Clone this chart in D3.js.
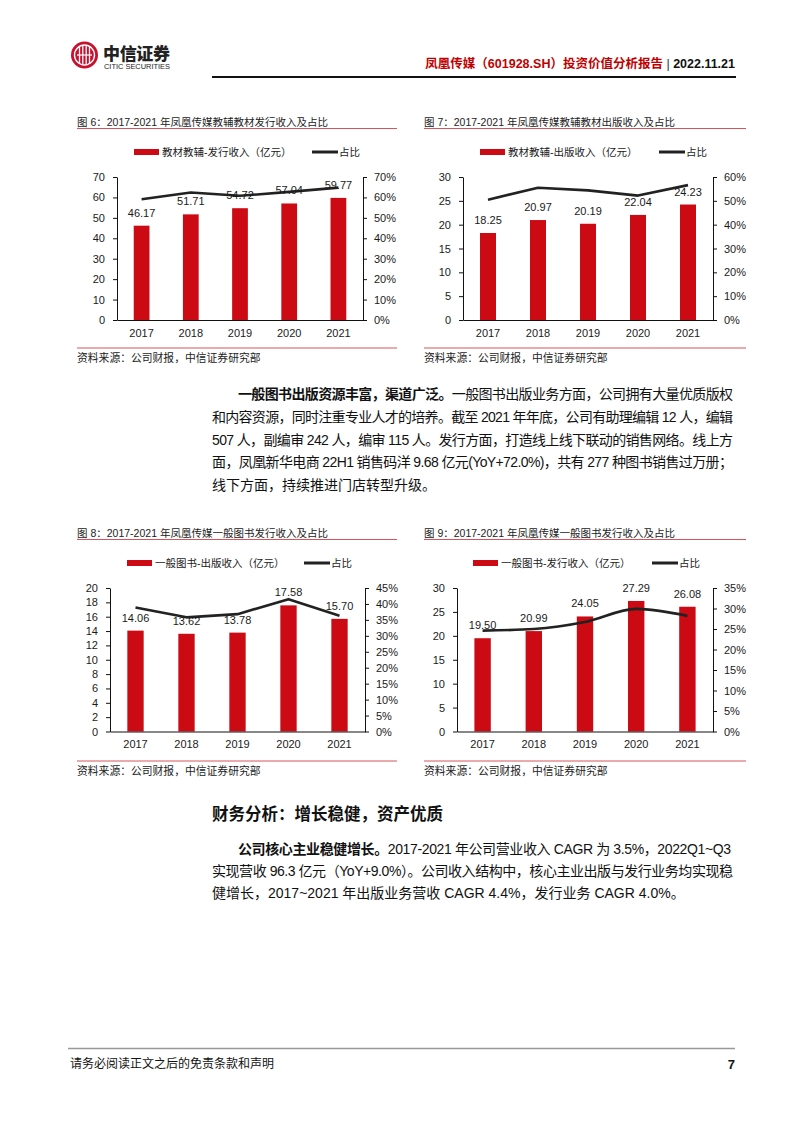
<!DOCTYPE html>
<html><head><meta charset="utf-8">
<script src="https://cdn.jsdelivr.net/npm/d3@7"></script>
<style>
html,body{margin:0;padding:0;background:#fff;}
svg text{font-family:"Liberation Sans","Noto Sans CJK SC",Arial,sans-serif;}
</style></head>
<body>
<script>
// ---------- DATA ----------
const years = ["2017", "2018", "2019", "2020", "2021"];

const fig6Title = "图 6：2017-2021 年凤凰传媒教辅教材发行收入及占比";
const fig6BarName = "教材教辅-发行收入（亿元）";
const fig6Revenue = [46.17, 51.71, 54.72, 57.04, 59.77];
const fig6Share = [0.591, 0.624, 0.608, 0.627, 0.648];
const fig6LeftTicks = [0, 10, 20, 30, 40, 50, 60, 70];
const fig6RightTicks = [0, 0.1, 0.2, 0.3, 0.4, 0.5, 0.6, 0.7];

const fig7Title = "图 7：2017-2021 年凤凰传媒教辅教材出版收入及占比";
const fig7BarName = "教材教辅-出版收入（亿元）";
const fig7Revenue = [18.25, 20.97, 20.19, 22.04, 24.23];
const fig7Share = [0.505, 0.555, 0.544, 0.522, 0.566];
const fig7LeftTicks = [0, 5, 10, 15, 20, 25, 30];
const fig7RightTicks = [0, 0.1, 0.2, 0.3, 0.4, 0.5, 0.6];

const fig8Title = "图 8：2017-2021 年凤凰传媒一般图书发行收入及占比";
const fig8BarName = "一般图书-出版收入（亿元）";
const fig8Revenue = [14.06, 13.62, 13.78, 17.58, 15.70];
const fig8Share = [0.389, 0.358, 0.368, 0.415, 0.363];
const fig8LeftTicks = [0, 2, 4, 6, 8, 10, 12, 14, 16, 18, 20];
const fig8RightTicks = [0, 0.05, 0.1, 0.15, 0.2, 0.25, 0.3, 0.35, 0.4, 0.45];

const fig9Title = "图 9：2017-2021 年凤凰传媒一般图书发行收入及占比";
const fig9BarName = "一般图书-发行收入（亿元）";
const fig9Revenue = [19.50, 20.99, 24.05, 27.29, 26.08];
const fig9Share = [0.246, 0.250, 0.267, 0.299, 0.282];
const fig9LeftTicks = [0, 5, 10, 15, 20, 25, 30];
const fig9RightTicks = [0, 0.05, 0.1, 0.15, 0.2, 0.25, 0.3, 0.35];

const lineName = "占比";
const sourceText = "资料来源：公司财报，中信证券研究部";

// ---------- STYLE ----------
const RED = "#cc0a14";
const RULE = "#d9545a";
const INK = "#1a1a1a";

const svg = d3.select("body").append("svg").attr("width", 802).attr("height", 1133);

// ---------- HEADER ----------
const logo = svg.append("g");
logo.append("circle").attr("cx", 84.5).attr("cy", 55).attr("r", 13.5).attr("fill", "#c8102e");
logo.append("circle").attr("cx", 84.5).attr("cy", 55).attr("r", 10).attr("fill", "none").attr("stroke", "#fff").attr("stroke-width", 1.4);
[-5, -1.7, 1.7, 5].forEach(dx => {
  logo.append("line").attr("x1", 84.5 + dx).attr("x2", 84.5 + dx).attr("y1", 46).attr("y2", 64)
    .attr("stroke", "#fff").attr("stroke-width", 1.3);
});
logo.append("line").attr("x1", 77).attr("x2", 92).attr("y1", 55).attr("y2", 55).attr("stroke", "#fff").attr("stroke-width", 1.2);
logo.append("text").attr("x", 103).attr("y", 59.5).attr("font-size", 17).attr("font-weight", 900)
  .attr("fill", "#222").attr("textLength", 67).text("中信证券");
logo.append("text").attr("x", 104).attr("y", 68.5).attr("font-size", 7.2).attr("fill", "#222")
  .attr("textLength", 66).attr("lengthAdjust", "spacingAndGlyphs").text("CITIC SECURITIES");

const hdr = svg.append("text").attr("x", 735).attr("y", 67.5).attr("text-anchor", "end")
  .attr("font-size", 12.5).attr("font-weight", "bold");
hdr.append("tspan").attr("fill", "#c00000").text("凤凰传媒（601928.SH）投资价值分析报告");
hdr.append("tspan").attr("fill", "#333").attr("font-weight", "normal").text(" | ");
hdr.append("tspan").attr("fill", "#111").text("2022.11.21");
svg.append("line").attr("x1", 212).attr("x2", 736).attr("y1", 77).attr("y2", 77)
  .attr("stroke", "#111").attr("stroke-width", 2);

// ---------- CHART ----------
function drawChart(c) {
  const g = svg.append("g");
  // title + rule
  g.append("text").attr("x", c.frameL).attr("y", c.titleY).attr("font-size", 10.5).attr("fill", "#222").text(c.title);
  g.append("line").attr("x1", c.frameL).attr("x2", c.frameR).attr("y1", c.titleY + 2.5).attr("y2", c.titleY + 2.5)
    .attr("stroke", RULE).attr("stroke-width", 1);
  // source
  g.append("line").attr("x1", c.frameL).attr("x2", c.frameR).attr("y1", c.sourceLineY).attr("y2", c.sourceLineY)
    .attr("stroke", RULE).attr("stroke-width", 1);
  g.append("text").attr("x", c.frameL).attr("y", c.sourceLineY + 14).attr("font-size", 10.8).attr("fill", "#222").text(sourceText);

  // legend
  g.append("rect").attr("x", c.leg1X).attr("y", c.legY - 3).attr("width", 25).attr("height", 6).attr("fill", RED);
  g.append("text").attr("x", c.leg1X + 28).attr("y", c.legY).attr("dy", "0.36em").attr("font-size", 10.5).attr("fill", INK).text(c.barName);
  g.append("line").attr("x1", c.leg2X).attr("x2", c.leg2X + 26).attr("y1", c.legY).attr("y2", c.legY)
    .attr("stroke", "#222").attr("stroke-width", 3);
  g.append("text").attr("x", c.leg2X + 27).attr("y", c.legY).attr("dy", "0.36em").attr("font-size", 10.5).attr("fill", INK).text(lineName);

  const x = d3.scaleBand().domain(years).range([c.left, c.right]).paddingInner(0.68).paddingOuter(0.34);
  const y = d3.scaleLinear().domain([0, d3.max(c.leftTicks)]).range([c.bottom, c.top]);
  const y2 = d3.scaleLinear().domain([0, d3.max(c.rightTicks)]).range([c.bottom, c.top]);

  const data = years.map((yr, i) => ({ yr, v: c.revenue[i], s: c.share[i] }));

  g.selectAll("rect.bar").data(data).join("rect").attr("class", "bar")
    .attr("x", d => x(d.yr)).attr("y", d => y(d.v))
    .attr("width", x.bandwidth()).attr("height", d => c.bottom - y(d.v)).attr("fill", RED);

  const styleAxis = sel => {
    sel.attr("font-size", 11).attr("font-family", "'Liberation Sans','Noto Sans CJK SC',Arial,sans-serif");
    sel.selectAll("path.domain").attr("stroke", "#111").attr("stroke-width", 1);
    sel.selectAll(".tick line").attr("stroke", "#111");
    sel.selectAll(".tick text").attr("fill", INK);
  };

  g.append("g").attr("transform", `translate(${c.left},0)`)
    .call(d3.axisLeft(y).tickValues(c.leftTicks).tickSize(4).tickSizeOuter(0).tickPadding(8).tickFormat(d3.format("d")))
    .call(styleAxis);
  g.append("g").attr("transform", `translate(${c.right},0)`)
    .call(d3.axisRight(y2).tickValues(c.rightTicks).tickSize(4).tickSizeOuter(0).tickPadding(7).tickFormat(d3.format(".0%")))
    .call(styleAxis);
  g.append("g").attr("transform", `translate(0,${c.bottom})`)
    .call(d3.axisBottom(x).tickSize(0).tickSizeOuter(0).tickPadding(9))
    .call(styleAxis);

  const line = d3.line().x(d => x(d.yr) + x.bandwidth() / 2).y(d => y2(d.s)).curve(c.curve || d3.curveLinear);
  g.append("path").datum(data).attr("d", line).attr("fill", "none").attr("stroke", "#222")
    .attr("stroke-width", 2.6).attr("stroke-linejoin", "round");

  g.selectAll("text.lbl").data(data).join("text").attr("class", "lbl")
    .attr("x", d => x(d.yr) + x.bandwidth() / 2).attr("y", d => y(d.v) - 9)
    .attr("text-anchor", "middle").attr("font-size", 11).attr("fill", INK)
    .text(d => d.v.toFixed(2));
}

drawChart({ title: fig6Title, barName: fig6BarName, revenue: fig6Revenue, share: fig6Share,
  leftTicks: fig6LeftTicks, rightTicks: fig6RightTicks,
  frameL: 77, frameR: 397, titleY: 126, sourceLineY: 348, legY: 152, leg1X: 134, leg2X: 312,
  left: 117, right: 363, top: 177, bottom: 320 });
drawChart({ title: fig7Title, barName: fig7BarName, revenue: fig7Revenue, share: fig7Share,
  leftTicks: fig7LeftTicks, rightTicks: fig7RightTicks,
  frameL: 424, frameR: 746, titleY: 126, sourceLineY: 348, legY: 152, leg1X: 480, leg2X: 659,
  left: 463, right: 713, top: 177, bottom: 320 });
drawChart({ title: fig8Title, barName: fig8BarName, revenue: fig8Revenue, share: fig8Share,
  leftTicks: fig8LeftTicks, rightTicks: fig8RightTicks,
  frameL: 77, frameR: 397, titleY: 537, sourceLineY: 761, legY: 563, leg1X: 127, leg2X: 304,
  left: 110, right: 365, top: 588, bottom: 731.5 });
drawChart({ title: fig9Title, barName: fig9BarName, revenue: fig9Revenue, share: fig9Share,
  leftTicks: fig9LeftTicks, rightTicks: fig9RightTicks,
  frameL: 424, frameR: 746, titleY: 537, sourceLineY: 761, legY: 563, leg1X: 473, leg2X: 652,
  left: 457, right: 713, top: 588, bottom: 731.5, curve: d3.curveMonotoneX });

// ---------- BODY TEXT ----------
function textLine(x, y, parts, width) {
  const t = svg.append("text").attr("x", x).attr("y", y).attr("font-size", 14).attr("fill", "#111");
  if (width) t.attr("textLength", width).attr("lengthAdjust", "spacing");
  parts.forEach(p => t.append("tspan").attr("font-weight", p.b ? "bold" : "normal").text(p.t));
}
const L = 212, R = 733, IND = 238;
const p1 = 399, gap1 = 22.8;
textLine(IND, p1, [{ t: "一般图书出版资源丰富，渠道广泛。", b: true }, { t: "一般图书出版业务方面，公司拥有大量优质版权" }], R - IND);
textLine(L, p1 + gap1, [{ t: "和内容资源，同时注重专业人才的培养。截至 2021 年年底，公司有助理编辑 12 人，编辑" }], R - L);
textLine(L, p1 + gap1 * 2, [{ t: "507 人，副编审 242 人，编审 115 人。发行方面，打造线上线下联动的销售网络。线上方" }], R - L);
textLine(L, p1 + gap1 * 3, [{ t: "面，凤凰新华电商 22H1 销售码洋 9.68 亿元(YoY+72.0%)，共有 277 种图书销售过万册；" }], R - L);
textLine(L, p1 + gap1 * 4, [{ t: "线下方面，持续推进门店转型升级。" }]);

svg.append("text").attr("x", L).attr("y", 820).attr("font-size", 16.5).attr("font-weight", "bold").attr("fill", "#111")
  .text("财务分析：增长稳健，资产优质");

const p2 = 854, gap2 = 22;
textLine(IND, p2, [{ t: "公司核心主业稳健增长。", b: true }, { t: "2017-2021 年公司营业收入 CAGR 为 3.5%，2022Q1~Q3" }], 731 - IND);
textLine(L, p2 + gap2, [{ t: "实现营收 96.3 亿元（YoY+9.0%）。公司收入结构中，核心主业出版与发行业务均实现稳" }], R - L);
textLine(L, p2 + gap2 * 2, [{ t: "健增长，2017~2021 年出版业务营收 CAGR 4.4%，发行业务 CAGR 4.0%。" }]);

// ---------- FOOTER ----------
svg.append("line").attr("x1", 68).attr("x2", 735).attr("y1", 1048.5).attr("y2", 1048.5).attr("stroke", "#999").attr("stroke-width", 1.5);
svg.append("text").attr("x", 70).attr("y", 1068).attr("font-size", 12).attr("fill", "#111").text("请务必阅读正文之后的免责条款和声明");
svg.append("text").attr("x", 735).attr("y", 1068.5).attr("text-anchor", "end").attr("font-size", 13).attr("font-weight", "bold").attr("fill", "#111").text("7");
</script>
</body></html>
